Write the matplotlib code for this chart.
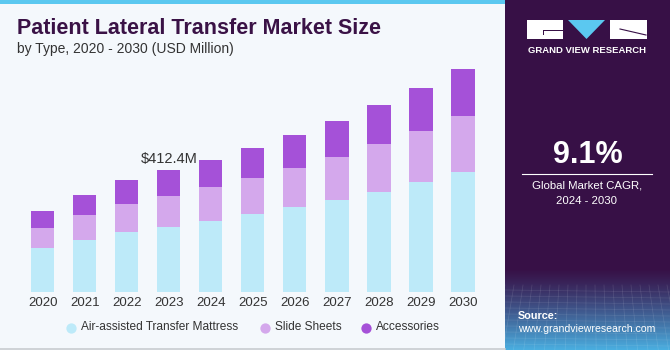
import numpy as np
from matplotlib import pyplot as plt
from matplotlib.patches import Rectangle, Polygon

years = ["2020", "2021", "2022", "2023", "2024", "2025", "2026", "2027", "2028", "2029", "2030"]
mattress = [147.4, 176.6, 202.8, 220.8, 241.2, 262.9, 286.7, 312.5, 339.7, 371.6, 405.6]
slide_sheets = [69.0, 82.9, 96.1, 105.3, 113.5, 123.3, 134.5, 146.1, 161.0, 175.3, 190.2]
accessories = [57.7, 69.0, 80.5, 86.3, 93.8, 101.9, 111.1, 121.3, 133.5, 144.0, 159.7]
series_names = ["Air-assisted Transfer Mattress", "Slide Sheets", "Accessories"]
highlight_year = "2023"
highlight_label = "$412.4M"

BG = "#F4F8FC"
DARK = "#371046"
COLORS = ["#BDEAF9", "#D4A8EC", "#A551D8"]
W, H = 670, 350
FONT = "Liberation Sans"

fig = plt.figure(figsize=(6.7, 3.5), dpi=100)
fig.patch.set_facecolor(BG)

# background / decoration layer in pixel coords
deco = fig.add_axes([0, 0, 1, 1])
deco.set_xlim(0, W)
deco.set_ylim(H, 0)
deco.axis("off")
deco.add_patch(Rectangle((0, 0), 505, 4, color="#5BC8F0", lw=0))
deco.add_patch(Rectangle((505, 0), W - 505, H, color=DARK, lw=0))
# gradient at bottom of side panel
grad = np.linspace(0, 1, 100).reshape(-1, 1)
top_c = np.array([0x37, 0x10, 0x46]) / 255
bot_c = np.array([0x4A, 0xAE, 0xE0]) / 255
img = top_c + (bot_c - top_c) * grad[..., None] ** 1.2
deco.imshow(img, extent=(505, W, H, 268), aspect="auto", zorder=1)
for gx in np.arange(505, W, 9):
    deco.plot([gx, gx + (gx - 587) * 0.15], [285, H], color="white", alpha=0.12, lw=0.5, zorder=2)
for gy in np.arange(290, H, 6):
    deco.plot([505, W], [gy, gy + 2], color="white", alpha=0.10, lw=0.5, zorder=2)
deco.plot([0, 505], [348.5, 348.5], color="#C8CCD0", lw=1.2)

# logo
deco.add_patch(Rectangle((527, 20), 36, 19, color="white", lw=0, zorder=3))
deco.add_patch(Rectangle((543, 30), 20, 1.2, color=DARK, lw=0, zorder=4))
deco.add_patch(Rectangle((543, 30), 1.2, 5, color=DARK, lw=0, zorder=4))
deco.add_patch(Polygon([[568, 20], [605, 20], [586.5, 39]], color="#5BC8F0", lw=0, zorder=3))
deco.add_patch(Rectangle((610, 20), 37, 19, color="white", lw=0, zorder=3))
deco.plot([620, 646], [29, 35], color=DARK, lw=0.8, zorder=4)
deco.text(586.5, 50.5, "GRAND VIEW RESEARCH", color="white", fontsize=6.8, fontweight="bold",
          ha="center", va="center", family=FONT, zorder=4)

# side panel text
deco.text(587.5, 155, "9.1%", color="white", fontsize=22, fontweight="bold",
          ha="center", va="center", family=FONT, zorder=4)
deco.plot([522, 652], [173.5, 173.5], color="white", lw=0.8, zorder=4)
deco.text(587, 186, "Global Market CAGR,", color="white", fontsize=8.2,
          ha="center", va="center", family=FONT, zorder=4)
deco.text(587, 201, "2024 - 2030", color="white", fontsize=8.2,
          ha="center", va="center", family=FONT, zorder=4)
deco.text(518, 316, "Source:", color="white", fontsize=7.8, fontweight="bold",
          ha="left", va="center", family=FONT, zorder=4)
deco.text(518, 329, "www.grandviewresearch.com", color="white", fontsize=7.6,
          ha="left", va="center", family=FONT, zorder=4)

# titles
deco.text(17, 28, "Patient Lateral Transfer Market Size", color="#3A1246", fontsize=15.5,
          fontweight="heavy", ha="left", va="center", family=FONT)
deco.text(17, 49, "by Type, 2020 - 2030 (USD Million)", color="#333333", fontsize=10,
          ha="left", va="center", family=FONT)

# chart
base_px = 291.7
top_px = 60
ax = fig.add_axes([0, (H - base_px) / H, 505 / W, (base_px - top_px) / H])
ax.set_facecolor("none")
x = np.arange(len(years))
m = np.array(mattress)
s = np.array(slide_sheets)
a = np.array(accessories)
ax.bar(x, m, width=0.55, color=COLORS[0], label=series_names[0])
ax.bar(x, s, width=0.55, bottom=m, color=COLORS[1], label=series_names[1])
ax.bar(x, a, width=0.55, bottom=m + s, color=COLORS[2], label=series_names[2])
ax.set_xlim(-1.02, 11.0)
ax.set_ylim(0, (base_px - top_px) * 3.397)
ax.set_xticks(x)
ax.set_xticklabels(years, fontsize=9.5, color="#333333", family=FONT)
ax.tick_params(axis="x", length=0, pad=4)
ax.set_yticks([])
for sp in ax.spines.values():
    sp.set_visible(False)

hi = years.index(highlight_year)
ax.text(hi, m[hi] + s[hi] + a[hi] + 15, highlight_label, ha="center", va="bottom",
        fontsize=10.5, color="#333333", family=FONT)

# legend with round markers
legend_x = [71, 265, 366]
for lx, name, c in zip(legend_x, series_names, COLORS):
    deco.scatter([lx], [327.5], s=55, color=c, lw=0, zorder=3)
    deco.text(lx + 10, 327.5, name, ha="left", va="center", fontsize=8.6,
              color="#333333", family=FONT)

fig.savefig("out.png", dpi=100, facecolor=BG)
